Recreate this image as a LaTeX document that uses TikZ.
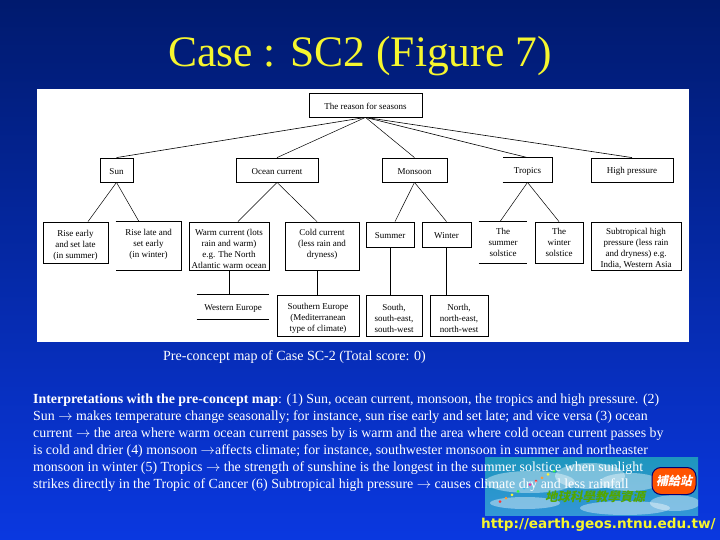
\documentclass[tikz,border=0pt]{standalone}
\usepackage{fontspec}
\setmainfont{Liberation Serif}
\newfontfamily\urlfont{DejaVu Sans}
\newfontfamily\cjk[FakeSlant=0.2]{Noto Sans CJK TC}
\usetikzlibrary{shapes.geometric}
\definecolor{slidetop}{HTML}{001A6E}
\definecolor{slidebottom}{HTML}{0A38E0}
\definecolor{sloganyellow}{HTML}{F6F62E}
\newcommand{\toppad}{\rule{0pt}{12pt}}
\tikzset{
  concept/.style = {draw, line width = 0.8pt, align = center, inner sep = 0pt, font = \fontsize{9}{11}\selectfont, execute at begin node = \rule{0pt}{9pt}},
  openbox/.style = {concept, draw = none},
  cloud_puff/.style = {fill = white, opacity = 0.4, ellipse, inner sep = 0pt}
}

\begin{document}
\begin{tikzpicture}[x = 1pt, y = -1pt]
      \useasboundingbox (0, 0) rectangle (720, 540);
      \shade[top color = slidetop, bottom color = slidebottom] (0, 0) rectangle (720, 540);
      \fill[white] (37, 89) rectangle (689, 342);

      \node[font = \fontsize{43.5}{48}\selectfont, text = sloganyellow] (title) at (360, 56) {Case : SC2 (Figure 7)};

      \node[concept, minimum width = 113pt, minimum height = 24pt] (reason) at (365.5, 105) {The reason for seasons};

      \node[concept, minimum width = 33pt, minimum height = 24pt] (sun) at (116.5, 170) {Sun};
      \node[concept, minimum width = 82pt, minimum height = 24pt] (ocean) at (277, 170) {Ocean current};
      \node[concept, minimum width = 65pt, minimum height = 24pt] (monsoon) at (414.5, 170) {Monsoon};
      \node[openbox, minimum width = 49pt, minimum height = 24pt] (tropics) at (527.5, 170) {Tropics};
      \node[concept, minimum width = 82pt, minimum height = 24pt] (high_pressure) at (632, 170) {High pressure};

      \node[concept, minimum width = 65pt, minimum height = 41pt] (rise_early) at (75.5, 242.5) {\toppad Rise early \\ and set late \\ (in summer)};
      \node[openbox, minimum width = 65pt, minimum height = 48pt] (rise_late) at (148.5, 246) {\toppad Rise late and \\ set early \\ (in winter) \\ \mbox{}};
      \node[concept, minimum width = 80pt, minimum height = 48pt] (warm) at (229, 246) {\toppad Warm current (lots \\ rain and warm) \\ e.g. The North \\ Atlantic warm ocean};
      \node[concept, minimum width = 74pt, minimum height = 48pt] (cold) at (322, 246) {\toppad Cold current \\ (less rain and \\ dryness) \\ \mbox{}};
      \node[concept, minimum width = 48pt, minimum height = 25pt] (summer) at (390, 234.5) {Summer};
      \node[concept, minimum width = 49pt, minimum height = 25pt] (winter) at (446.5, 234.5) {Winter};
      \node[openbox, minimum width = 48pt, minimum height = 41pt] (summer_solstice) at (503, 242.5) {The \\ summer \\ solstice};
      \node[concept, minimum width = 48pt, minimum height = 41pt] (winter_solstice) at (559, 242.5) {The \\ winter \\ solstice};
      \node[concept, minimum width = 90pt, minimum height = 48pt] (subtropical) at (636, 246) {\toppad Subtropical high \\ pressure (less rain \\ and dryness) e.g. \\ India, Western Asia};

      \node[openbox, minimum width = 72pt, minimum height = 24pt] (western) at (233, 307) {Western Europe};
      \node[concept, minimum width = 82pt, minimum height = 41pt] (southern) at (318, 315.5) {\toppad Southern Europe \\ (Mediterranean \\ type of climate)};
      \node[concept, minimum width = 56pt, minimum height = 41pt] (south) at (394, 315.5) {\toppad South, \\ south-east, \\ south-west};
      \node[concept, minimum width = 58pt, minimum height = 41pt] (north) at (459, 315.5) {\toppad North, \\ north-east, \\ north-west};

      \draw[line width = 0.8pt] (tropics.south west) -- (tropics.south east) -- (tropics.north east) -- (tropics.north west);
      \draw[line width = 0.8pt] (rise_late.north west) -- (rise_late.north east) -- (rise_late.south east) -- (rise_late.south west);
      \draw[line width = 0.8pt] (summer_solstice.north west) -- (summer_solstice.north east);
      \draw[line width = 0.8pt] (summer_solstice.south west) -- (summer_solstice.south east);
      \draw[line width = 0.8pt] (western.north west) -- (western.north east);
      \draw[line width = 0.8pt] (western.south west) -- (western.south east);

      \draw[line width = 0.6pt] (reason.south) -- (sun.north);
      \draw[line width = 0.5pt] (reason.south) -- (ocean.north);
      \draw[line width = 0.5pt] (reason.south) -- (monsoon.north);
      \draw[line width = 0.6pt] (reason.south) -- (tropics.north);
      \draw[line width = 0.6pt] (reason.south) -- (high_pressure.north);
      \draw[line width = 0.5pt] (sun.south) -- ([xshift = 12.5pt]rise_early.north);
      \draw[line width = 0.5pt] (sun.south) -- ([xshift = -9.5pt]rise_late.north);
      \draw[line width = 0.5pt] (ocean.south) -- ([xshift = 9pt]warm.north);
      \draw[line width = 0.5pt] (ocean.south) -- ([xshift = -5pt]cold.north);
      \draw[line width = 0.5pt] (monsoon.south) -- ([xshift = 5pt]summer.north);
      \draw[line width = 0.5pt] (monsoon.south) -- (winter.north);
      \draw[line width = 0.5pt] (tropics.south) -- ([xshift = -3pt]summer_solstice.north);
      \draw[line width = 0.5pt] (tropics.south) -- (winter_solstice.north);
      \draw[line width = 0.8pt] (warm.south) -- (warm.south |- western.north);
      \draw[line width = 0.8pt] ([xshift = -5pt]cold.south) -- ([xshift = -5pt]cold.south |- southern.north);
      \draw[line width = 0.8pt] (summer.south) -- (summer.south |- south.north);
      \draw[line width = 0.8pt] (winter.south) -- (winter.south |- north.north);

      \node[text = white, font = \fontsize{14}{16}\selectfont] (caption) at (294.5, 357) {Pre-concept map of Case SC-2 (Total score: 0)};

      \begin{scope}
        \clip (485, 457) rectangle (698, 515);
        \shade[top color = {rgb,255:red,30;green,150;blue,190}, bottom color = {rgb,255:red,50;green,150;blue,215}] (485, 457) rectangle (698, 515);
        \node[cloud_puff, minimum width = 90pt, minimum height = 22pt] (puff_a) at (530, 482) {};
        \node[cloud_puff, minimum width = 70pt, minimum height = 26pt] (puff_b) at (590, 476) {};
        \node[cloud_puff, minimum width = 60pt, minimum height = 18pt] (puff_f) at (630, 482) {};
        \node[cloud_puff, minimum width = 70pt, minimum height = 12pt] (puff_c) at (525, 503) {};
        \node[cloud_puff, minimum width = 90pt, minimum height = 14pt] (puff_d) at (625, 508) {};
        \node[cloud_puff, minimum width = 50pt, minimum height = 16pt] (puff_e) at (675, 503) {};
        \foreach \dotcolor [count = \i] in {red, orange, yellow, green, cyan, magenta, red, orange, yellow, green} {
          \fill[\dotcolor!80!white] (494 + 6 * \i, 505 - 3.4 * \i) circle (1.5pt);
        }
        \node[fill = orange!65!red, draw = blue!45!black, line width = 1pt, rounded corners = 9pt, minimum width = 44pt, minimum height = 27pt, inner sep = 0pt, text = white, font = \cjk\bfseries\fontsize{12}{14}\selectfont] (badge) at (674, 481) {補給站};
        \node[text = green!50!yellow!65!black, font = \cjk\bfseries\fontsize{12.5}{14}\selectfont, inner sep = 0pt] (logo_text) at (595, 497) {地球科學教學資源};
      \end{scope}

      \node[text = white, anchor = north west, align = left, inner sep = 0pt, font = \fontsize{13.9}{16.9}\selectfont] (interpretation) at (33, 394) {\textbf{Interpretations with the pre-concept map}: (1) Sun, ocean current, monsoon, the tropics and high pressure. (2) \\
        Sun $\rightarrow$ makes temperature change seasonally; for instance, sun rise early and set late; and vice versa (3) ocean \\
        current $\rightarrow$ the area where warm ocean current passes by is warm and the area where cold ocean current passes by \\
        is cold and drier (4) monsoon $\rightarrow$affects climate; for instance, southwester monsoon in summer and northeaster \\
        monsoon in winter (5) Tropics $\rightarrow$ the strength of sunshine is the longest in the summer solstice when sunlight \\
        strikes directly in the Tropic of Cancer (6) Subtropical high pressure $\rightarrow$ causes climate dry and less rainfall};

      \node[text = sloganyellow, anchor = west, inner sep = 0pt, font = \urlfont\bfseries\fontsize{13.6}{18}\selectfont] (site) at (481, 525) {http://earth.geos.ntnu.edu.tw/};
    \end{tikzpicture}
\end{document}
